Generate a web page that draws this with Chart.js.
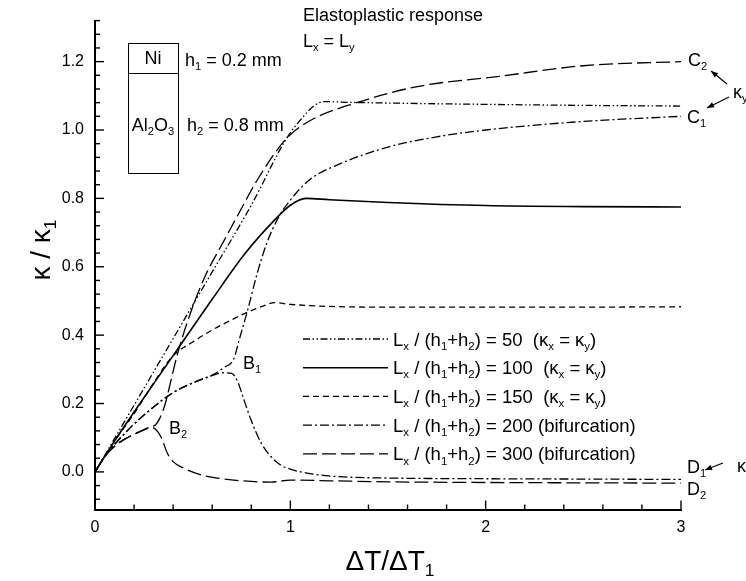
<!DOCTYPE html>
<html>
<head>
<meta charset="utf-8">
<script src="https://cdn.jsdelivr.net/npm/chart.js@4.4.1/dist/chart.umd.min.js"></script>
<style>
  html, body { margin: 0; padding: 0; background: #fff; }
  canvas { display: block; }
</style>
</head>
<body>
<canvas id="chart" width="746" height="581"></canvas>
<script>
/* ---------- values ---------- */
const xTickLabels = [0, 1, 2, 3];
const yTickLabels = [0.0, 0.2, 0.4, 0.6, 0.8, 1.0, 1.2];

// Lx/(h1+h2) = 50  (kx = ky)
const x50 = [0, 0.2, 0.4, 0.6, 0.8, 0.98, 1.06, 1.12, 1.17, 1.3, 1.6, 2.0, 2.5, 3.0];
const y50 = [0, 0.195, 0.39, 0.585, 0.78, 0.975, 1.035, 1.07, 1.083, 1.081, 1.078, 1.075, 1.072, 1.07];

// Lx/(h1+h2) = 100
const x100 = [0, 0.1, 0.2, 0.4, 0.6, 0.77, 0.92, 1.0, 1.08, 1.2, 1.5, 2.0, 2.5, 3.0];
const y100 = [0, 0.09, 0.175, 0.34, 0.505, 0.64, 0.737, 0.78, 0.80, 0.796, 0.788, 0.779, 0.776, 0.775];

// Lx/(h1+h2) = 150
const x150 = [0, 0.1, 0.2, 0.3, 0.4, 0.5, 0.6, 0.7, 0.78, 0.86, 0.92, 1.0, 1.2, 1.5, 2.0, 2.5, 3.0];
const y150 = [0, 0.09, 0.17, 0.26, 0.34, 0.38, 0.415, 0.445, 0.467, 0.485, 0.495, 0.49, 0.484, 0.482, 0.482, 0.482, 0.483];

// Lx/(h1+h2) = 200, branch C1 (ky) and branch D1
const x200c = [0, 0.05, 0.1, 0.2, 0.3, 0.4, 0.5, 0.6, 0.66, 0.71, 0.74, 0.78, 0.83, 0.88, 0.94, 1.0, 1.1, 1.25, 1.5, 1.75, 2.0, 2.5, 3.0];
const y200c = [0, 0.045, 0.08, 0.14, 0.19, 0.232, 0.26, 0.283, 0.305, 0.33, 0.39, 0.47, 0.58, 0.67, 0.745, 0.795, 0.855, 0.90, 0.95, 0.98, 1.0, 1.025, 1.04];
const x200d = [0, 0.05, 0.1, 0.2, 0.3, 0.4, 0.5, 0.6, 0.66, 0.7, 0.73, 0.76, 0.8, 0.85, 0.9, 0.95, 1.0, 1.1, 1.25, 1.5, 2.0, 2.5, 3.0];
const y200d = [0, 0.045, 0.08, 0.14, 0.19, 0.232, 0.26, 0.282, 0.29, 0.288, 0.265, 0.215, 0.15, 0.085, 0.045, 0.02, 0.008, -0.005, -0.014, -0.018, -0.02, -0.021, -0.022];

// Lx/(h1+h2) = 300, branch C2 and branch D2
const x300c = [0, 0.05, 0.1, 0.15, 0.2, 0.25, 0.28, 0.31, 0.33, 0.36, 0.39, 0.42, 0.49, 0.57, 0.64, 0.74, 0.83, 0.98, 1.1, 1.34, 1.65, 2.07, 2.5, 3.0];
const y300c = [0, 0.045, 0.075, 0.095, 0.11, 0.123, 0.13, 0.138, 0.155, 0.2, 0.27, 0.34, 0.467, 0.58, 0.655, 0.76, 0.853, 0.975, 1.027, 1.08, 1.127, 1.157, 1.188, 1.20];
const x300d = [0, 0.05, 0.1, 0.15, 0.2, 0.25, 0.28, 0.31, 0.34, 0.37, 0.4, 0.45, 0.55, 0.65, 0.8, 0.9, 1.0, 1.2, 1.5, 2.0, 2.5, 3.0];
const y300d = [0, 0.045, 0.075, 0.095, 0.11, 0.123, 0.13, 0.125, 0.1, 0.055, 0.03, 0.012, -0.01, -0.02, -0.028, -0.03, -0.024, -0.026, -0.029, -0.031, -0.032, -0.033];

const legendLabels = [
  'L_{x} / (h_{1}+h_{2}) = 50  (\u03ba_{x} = \u03ba_{y})',
  'L_{x} / (h_{1}+h_{2}) = 100  (\u03ba_{x} = \u03ba_{y})',
  'L_{x} / (h_{1}+h_{2}) = 150  (\u03ba_{x} = \u03ba_{y})',
  'L_{x} / (h_{1}+h_{2}) = 200 (bifurcation)',
  'L_{x} / (h_{1}+h_{2}) = 300 (bifurcation)'
];
const legendDatasets = [0, 1, 2, 3, 5];

/* ---------- helpers ---------- */
const FAMILY = '"Liberation Sans", Arial, Helvetica, sans-serif';
const isMajor = (v, step) => Math.abs(v / step - Math.round(v / step)) < 1e-6;
const pts = (xs, ys) => xs.map((v, i) => ({x: v, y: ys[i]}));

// text with _{..} subscripts, y = vertical centre of capitals
function richText(ctx, str, x, y, size, align){
  const parts = [];
  const re = /_\{([^}]*)\}/g;
  let last = 0, m;
  while((m = re.exec(str))){
    if(m.index > last) parts.push({t: str.slice(last, m.index), sub: false});
    parts.push({t: m[1], sub: true});
    last = re.lastIndex;
  }
  if(last < str.length) parts.push({t: str.slice(last), sub: false});
  const subSize = size * 0.62;
  let w = 0;
  parts.forEach(p => { ctx.font = `${p.sub ? subSize : size}px ${FAMILY}`; p.w = ctx.measureText(p.t).width; w += p.w; });
  let cx = align === 'center' ? x - w / 2 : align === 'right' ? x - w : x;
  const base = y + size * 0.36;
  ctx.textAlign = 'left';
  ctx.textBaseline = 'alphabetic';
  parts.forEach(p => {
    ctx.font = `${p.sub ? subSize : size}px ${FAMILY}`;
    ctx.fillText(p.t, cx, p.sub ? base + size * 0.22 : base);
    cx += p.w;
  });
}

function arrow(ctx, x1, y1, x2, y2){
  ctx.beginPath(); ctx.moveTo(x1, y1); ctx.lineTo(x2, y2); ctx.stroke();
  const a = Math.atan2(y2 - y1, x2 - x1), L = 7, W = 2.8;
  ctx.beginPath();
  ctx.moveTo(x2, y2);
  ctx.lineTo(x2 - L * Math.cos(a) + W * Math.sin(a), y2 - L * Math.sin(a) - W * Math.cos(a));
  ctx.lineTo(x2 - L * Math.cos(a) - W * Math.sin(a), y2 - L * Math.sin(a) + W * Math.cos(a));
  ctx.closePath(); ctx.fill();
}

/* ---------- inward ticks, titles, legend, annotations ---------- */
const inkPlugin = {
  id: 'ink',
  afterDraw(chart){
    const {ctx, chartArea: a, scales: {x, y}} = chart;
    ctx.save();
    ctx.strokeStyle = '#000'; ctx.fillStyle = '#000';

    // ticks pointing into the plot
    ctx.lineWidth = 1.4;
    x.ticks.forEach(t => {
      const px = x.getPixelForValue(t.value), len = isMajor(t.value, 1) ? 9 : 5;
      ctx.beginPath(); ctx.moveTo(px, a.bottom); ctx.lineTo(px, a.bottom - len); ctx.stroke();
    });
    y.ticks.forEach(t => {
      const py = y.getPixelForValue(t.value), len = isMajor(t.value, 0.2) ? 9 : 5;
      ctx.beginPath(); ctx.moveTo(a.left, py); ctx.lineTo(a.left + len, py); ctx.stroke();
    });

    // axis titles
    richText(ctx, '\u0394T/\u0394T_{1}', (a.left + a.right) / 2 + 2, 560, 28, 'center');
    ctx.save();
    ctx.translate(40, 250); ctx.rotate(-Math.PI / 2);
    richText(ctx, '\u03ba / \u03ba_{1}', 0, 0, 28, 'center');
    ctx.restore();

    // legend
    legendDatasets.forEach((di, i) => {
      const ds = chart.data.datasets[di], cy = 339 + i * 28.7;
      ctx.save();
      ctx.lineWidth = ds.borderWidth;
      ctx.setLineDash(ds.borderDash || []);
      ctx.beginPath(); ctx.moveTo(303, cy); ctx.lineTo(388, cy); ctx.stroke();
      ctx.restore();
      richText(ctx, legendLabels[i], 393, cy, 18.5, 'left');
    });

    // header text and layer sketch
    richText(ctx, 'Elastoplastic response', 303, 15, 18, 'left');
    richText(ctx, 'L_{x} = L_{y}', 303, 41, 18, 'left');
    ctx.lineWidth = 1;
    ctx.strokeRect(128.5, 43.5, 50, 130);
    ctx.beginPath(); ctx.moveTo(128.5, 73.5); ctx.lineTo(178.5, 73.5); ctx.stroke();
    richText(ctx, 'Ni', 153, 58, 18, 'center');
    richText(ctx, 'Al_{2}O_{3}', 153, 125, 18, 'center');
    richText(ctx, 'h_{1} = 0.2 mm', 185, 60, 18, 'left');
    richText(ctx, 'h_{2} = 0.8 mm', 187, 125, 18, 'left');

    // branch labels
    richText(ctx, 'B_{1}', 243, 363, 18, 'left');
    richText(ctx, 'B_{2}', 169, 428, 18, 'left');
    richText(ctx, 'C_{2}', 688, 60, 18, 'left');
    richText(ctx, 'C_{1}', 687, 117, 18, 'left');
    richText(ctx, '\u03ba_{y}', 733, 92, 18, 'left');
    richText(ctx, 'D_{1}', 687, 467, 18, 'left');
    richText(ctx, 'D_{2}', 687, 489, 18, 'left');
    richText(ctx, '\u03ba_{y}', 737, 466, 18, 'left');
    ctx.lineWidth = 1.2;
    arrow(ctx, 727, 84, 711, 71);
    arrow(ctx, 729, 97, 707, 108);
    arrow(ctx, 723, 463, 705, 470);
    ctx.restore();
  }
};

/* ---------- chart ---------- */
const line = {borderColor: '#000', borderWidth: 1.3, pointRadius: 0, fill: false, showLine: true, cubicInterpolationMode: 'monotone'};
const dash50 = [7, 2.5, 1.5, 2.5, 1.5, 2.5];
const dash200 = [9, 3, 2, 3];
const dash300 = [14, 5];

new Chart(document.getElementById('chart'), {
  type: 'scatter',
  data: {
    datasets: [
      {...line, label: '50', data: pts(x50, y50), borderDash: dash50},
      {...line, label: '100', data: pts(x100, y100), borderDash: [], borderWidth: 1.6},
      {...line, label: '150', data: pts(x150, y150), borderDash: [6, 4]},
      {...line, label: '200 C1', data: pts(x200c, y200c), borderDash: dash200},
      {...line, label: '200 D1', data: pts(x200d, y200d), borderDash: dash200},
      {...line, label: '300 C2', data: pts(x300c, y300c), borderDash: dash300},
      {...line, label: '300 D2', data: pts(x300d, y300d), borderDash: dash300}
    ]
  },
  options: {
    responsive: false,
    animation: false,
    devicePixelRatio: 1,
    layout: {padding: {left: 0, right: 65, top: 17, bottom: 0}},
    plugins: {legend: {display: false}, tooltip: {enabled: false}},
    scales: {
      x: {
        type: 'linear', min: 0, max: 3,
        afterBuildTicks(s){
          const t = [];
          for(let k = 0; k <= 15; k++) t.push({value: Math.round(k * 20) / 100});
          s.ticks = t;
        },
        afterFit(s){ s.height = 71.5; },
        ticks: {
          autoSkip: false, maxRotation: 0, padding: 8, color: '#000',
          font: {family: FAMILY, size: 16},
          callback: v => xTickLabels.includes(v) ? String(v) : ''
        },
        grid: {display: false, drawTicks: false},
        border: {display: true, color: '#000', width: 2}
      },
      y: {
        type: 'linear', min: -0.11, max: 1.32,
        afterBuildTicks(s){
          const t = [];
          for(let k = -2; k <= 33; k++) t.push({value: Math.round(k * 4) / 100});
          s.ticks = t;
        },
        afterFit(s){ s.width = 95; },
        ticks: {
          autoSkip: false, padding: 11, color: '#000',
          font: {family: FAMILY, size: 16},
          callback: v => yTickLabels.some(l => Math.abs(l - v) < 1e-6) ? v.toFixed(1) : ''
        },
        grid: {display: false, drawTicks: false},
        border: {display: true, color: '#000', width: 2}
      }
    }
  },
  plugins: [inkPlugin]
});
</script>
</body>
</html>
